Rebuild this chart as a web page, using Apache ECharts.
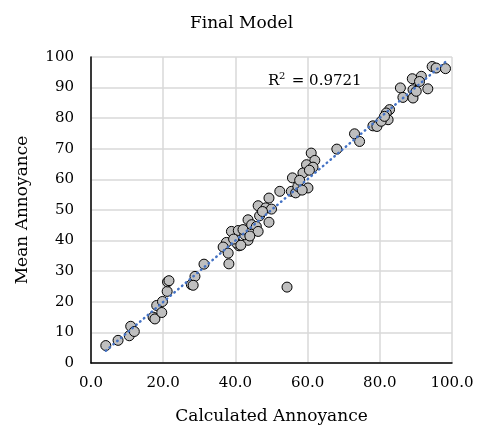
<!DOCTYPE html>
<html>
<head>
<meta charset="utf-8">
<script src="https://cdn.jsdelivr.net/npm/echarts@6/dist/echarts.min.js"></script>
<style>html,body{margin:0;padding:0;background:#fff}#c{width:483px;height:433px}</style>
</head>
<body>
<div id="c"></div>
<script>
var calculated = [4.1, 7.5, 11.0, 10.6, 12.0, 17.2, 17.7, 18.2, 19.6, 19.8, 21.1, 21.2, 21.6, 27.8, 28.8, 28.3,
  31.3, 38.2, 37.5, 36.6, 38.0, 38.9, 40.8, 41.0, 40.3, 43.5, 42.6, 42.1, 43.5, 44.5, 45.8, 46.3, 46.3, 46.7, 48.4, 49.3, 49.3, 50.0, 52.3,
  54.3, 55.5, 55.8, 56.7, 57.3, 61.0, 62.0, 59.7, 61.5, 58.7, 57.8, 60.1, 68.1, 73.0, 74.4, 78.1, 79.2,
  94.5, 95.6, 98.2, 89.0, 91.5, 91.0, 85.7, 93.3, 89.2, 86.4, 89.2, 90.1, 82.7, 81.8, 82.3, 80.4, 81.3,
  39.5, 41.5, 44.0, 47.5, 58.5, 60.5];
var mean = [5.7, 7.4, 12.0, 8.9, 10.3, 15.0, 14.4, 18.8, 16.5, 20.1, 23.4, 26.5, 26.9, 25.6, 28.3, 25.4,
  32.3, 32.4, 39.4, 37.9, 35.9, 43.0, 43.3, 38.3, 39.2, 40.1, 41.9, 43.6, 46.8, 45.2, 44.6, 43.0, 51.4, 48.1, 50.7, 46.0, 53.9, 50.3, 56.1,
  24.8, 56.1, 60.5, 55.6, 57.7, 68.6, 66.2, 64.8, 64.0, 62.1, 59.7, 57.2, 69.9, 74.9, 72.4, 77.5, 77.3,
  96.9, 96.4, 96.2, 92.9, 93.7, 92.0, 89.9, 89.6, 89.3, 86.8, 86.6, 88.8, 82.8, 81.7, 79.5, 79.0, 80.6,
  40.5, 38.5, 41.5, 49.5, 56.5, 63.0];
var xTicks = ['0.0', '20.0', '40.0', '60.0', '80.0', '100.0'];
var r2Label = 'R² = 0.9721';

var pts = calculated.map(function (x, i) { return [x, mean[i]]; });
var n = pts.length, sx = 0, sy = 0, sxx = 0, sxy = 0;
pts.forEach(function (p) { sx += p[0]; sy += p[1]; sxx += p[0] * p[0]; sxy += p[0] * p[1]; });
var slope = (n * sxy - sx * sy) / (n * sxx - sx * sx);
var icpt = (sy - slope * sx) / n;
var xmin = Math.min.apply(null, calculated), xmax = Math.max.apply(null, calculated);
var trend = [[xmin, icpt + slope * xmin], [xmax, icpt + slope * xmax]];

var font = '"DejaVu Serif", serif';
var chart = echarts.init(document.getElementById('c'));
chart.setOption({
  animation: false,
  title: { text: 'Final Model', left: 'center', top: 10, textStyle: { fontFamily: font, fontSize: 17, fontWeight: 'normal', color: '#000' } },
  grid: { left: 91, right: 31, top: 57, bottom: 70 },
  xAxis: {
    type: 'value', min: 0, max: 100, interval: 20,
    name: 'Calculated Annoyance', nameLocation: 'middle', nameGap: 45,
    nameTextStyle: { fontFamily: font, fontSize: 17, color: '#000' },
    axisLine: { lineStyle: { color: '#000', width: 1.5 } },
    axisTick: { show: false },
    axisLabel: { fontFamily: font, fontSize: 15, color: '#000', margin: 13, formatter: function (v) { return xTicks[v / 20]; } },
    splitLine: { show: true, lineStyle: { color: '#d9d9d9', width: 1.5 } }
  },
  yAxis: {
    type: 'value', min: 0, max: 100, interval: 10,
    name: 'Mean Annoyance', nameLocation: 'middle', nameGap: 60, nameRotate: 90,
    nameTextStyle: { fontFamily: font, fontSize: 17, color: '#000' },
    axisLine: { show: true, lineStyle: { color: '#000', width: 1.5 } },
    axisTick: { show: false },
    axisLabel: { fontFamily: font, fontSize: 15, color: '#000', margin: 17 },
    splitLine: { show: true, lineStyle: { color: '#d9d9d9', width: 1.5 } }
  },
  graphic: [{
    type: 'text', left: 268, top: 74,
    style: { text: 'R', fontFamily: font, fontSize: 15, fill: '#000' }
  }, {
    type: 'text', left: 279, top: 71,
    style: { text: '2', fontFamily: font, fontSize: 10, fill: '#000' }
  }, {
    type: 'text', left: 287, top: 74,
    style: { text: ' = 0.9721', fontFamily: font, fontSize: 15, fill: '#000' }
  }],
  series: [{
    type: 'scatter', data: pts, symbolSize: 10, z: 3,
    itemStyle: { color: '#bfbfbf', borderColor: '#000', borderWidth: 1, opacity: 1 }
  }, {
    type: 'line', data: trend, showSymbol: false, z: 4, silent: true,
    lineStyle: { color: '#4472c4', width: 2.5, type: [0.5, 4.5], cap: 'round' }
  }]
});
</script>
</body>
</html>
